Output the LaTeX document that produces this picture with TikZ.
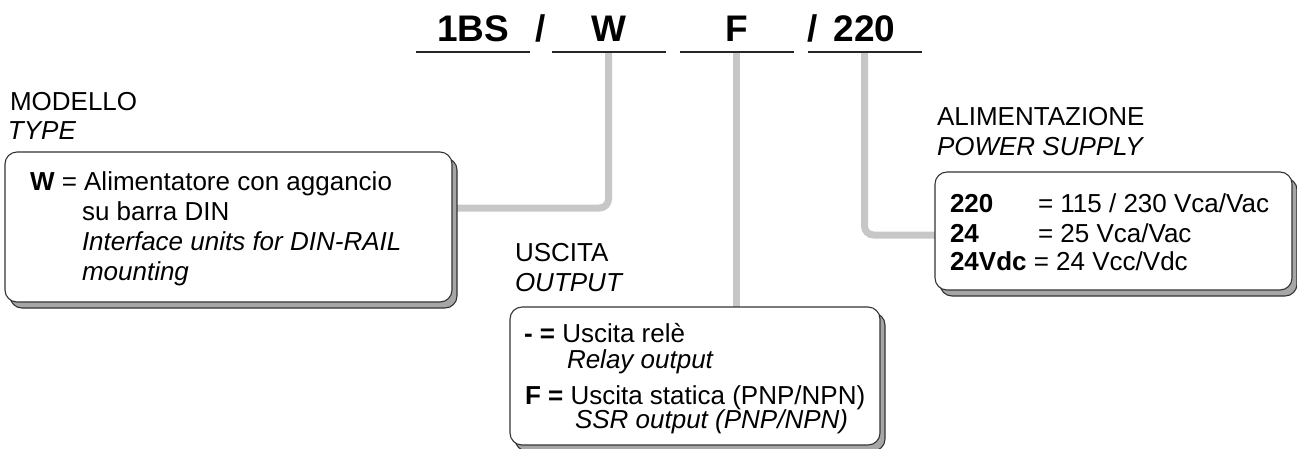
\documentclass[tikz,border=0pt]{standalone}
\usepackage{fontspec}
\setmainfont{Liberation Sans}
\usetikzlibrary{shadows, backgrounds}

\begin{document}
\begin{tikzpicture}[
    x = 1pt, y = -1pt,
    every node/.style = {inner sep = 0pt, outer sep = 0pt},
    field/.style = {font = \fontsize{37}{40}\selectfont\bfseries, anchor = base,
      minimum width = 114pt, text height = 27pt, text depth = 0pt, inner ysep = 10.5pt},
    slash/.style = {font = \fontsize{37}{40}\selectfont\bfseries, anchor = base},
    uline/.style = {line width = 2.4pt, draw = black!85},
    txt/.style = {font = \fontsize{26}{30}\selectfont, anchor = base west},
    box/.style = {draw = black!80, line width = 1.1pt, fill = white, rounded corners = 12pt,
      copy shadow = {shadow xshift = 5pt, shadow yshift = -6pt,
        fill = black!35, draw = black!80, line width = 1.1pt}},
    conn/.style = {draw = black!22, line width = 7pt, rounded corners = 9pt}
  ]
  \useasboundingbox (0,0) rectangle (1297,448);

  % code fields
  \node[field] (f1BS) at (473,41.6)   {1BS};
  \node[slash] (s1)   at (541,41.6)   {/};
  \node[field] (fW)   at (608.5,41.6) {W};
  \node[field] (fF)   at (736.5,41.6) {F};
  \node[slash] (s2)   at (813,41.6)   {/};
  \node[field] (f220) at (864.5,41.6) {220};
  \foreach \f in {f1BS, fW, fF, f220}
    \draw[uline] (\f.south west) -- (\f.south east);

  % boxes
  \node[box, minimum width = 447pt, minimum height = 150pt] (boxW) at (228.5,227) {};
  \node[box, minimum width = 370pt, minimum height = 138pt] (boxO) at (695,376) {};
  \node[box, minimum width = 357pt, minimum height = 118pt] (boxP) at (1113.5,231) {};

  % headings
  \node[txt] (modello) at (10,110)  {MODELLO};
  \node[txt] (type)    at (8,139)   {\itshape TYPE};
  \node[txt] (uscita)  at (515,261) {USCITA};
  \node[txt] (output)  at (515,291) {\itshape OUTPUT};
  \node[txt] (alim)    at (937,125) {ALIMENTAZIONE};
  \node[txt] (power)   at (937,155) {\itshape POWER SUPPLY};

  % box texts
  \node[txt] (w1) at (30,190) {\textbf{W} = Alimentatore con aggancio};
  \node[txt] (w2) at (82,220) {su barra DIN};
  \node[txt] (w3) at (82,250) {\itshape Interface units for DIN-RAIL};
  \node[txt] (w4) at (82,280) {\itshape mounting};

  \node[txt] (o1) at (524,342)   {\textbf{- =} Uscita relè};
  \node[txt] (o2) at (567,368)   {\itshape Relay output};
  \node[txt] (o3) at (525,404)   {\textbf{F =} Uscita statica (PNP/NPN)};
  \node[txt] (o4) at (575,428.5) {\itshape SSR output (PNP/NPN)};

  \node[txt] (p1a) at (950,212)  {\textbf{220}};
  \node[txt] (p1b) at (1038,212) {= 115 / 230 Vca/Vac};
  \node[txt] (p2a) at (950,242)  {\textbf{24}};
  \node[txt] (p2b) at (1038,242) {= 25 Vca/Vac};
  \node[txt] (p3)  at (950,270)  {\textbf{24Vdc} = 24 Vcc/Vdc};

  % connectors
  \coordinate (wbend) at (0,208);
  \coordinate (pbend) at (0,235);
  \begin{scope}[on background layer]
    \draw[conn] (fW.south) |- (boxW.east |- wbend);
    \draw[conn] (fF.south) -- (fF.south |- boxO.north);
    \draw[conn] (f220.south) |- (boxP.west |- pbend);
  \end{scope}

\end{tikzpicture}
\end{document}
